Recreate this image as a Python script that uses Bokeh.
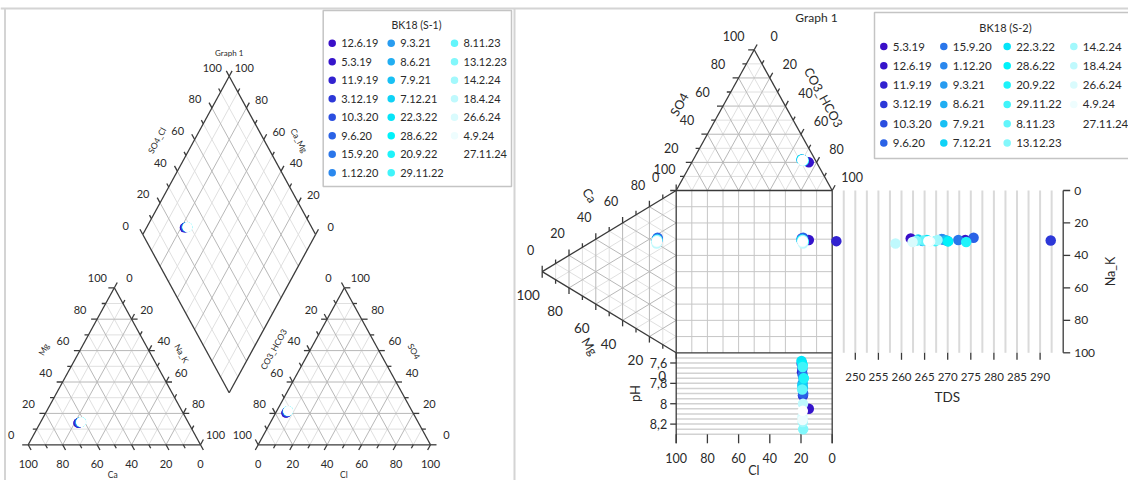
import numpy as np
from bokeh.plotting import figure
from bokeh.models import Range1d, ColumnDataSource
from bokeh.core.properties import value
from bokeh.embed import file_html
from bokeh.resources import INLINE

# ---------------------------------------------------------------- data
# BK18 (S-1): major ions in meq %, used for the Piper diagram
dates_s1 = ["12.6.19", "5.3.19", "11.9.19", "3.12.19", "10.3.20", "9.6.20", "15.9.20", "1.12.20",
            "9.3.21", "8.6.21", "7.9.21", "7.12.21", "22.3.22", "28.6.22", "20.9.22", "29.11.22",
            "8.11.23", "13.12.23", "14.2.24", "18.4.24", "26.6.24", "4.9.24", "27.11.24"]
ca_s1 = [64.2, 64.0, 63.7, 63.5, 63.3, 63.0, 62.9, 62.8, 62.6, 62.4, 62.5, 62.2,
         62.3, 62.0, 62.1, 61.9, 62.0, 61.8, 62.1, 61.9, 62.0, 62.2, 62.1]
mg_s1 = [13.8, 13.9, 14.0, 14.0, 14.1, 14.2, 14.2, 14.3, 14.3, 14.4, 14.3, 14.4,
         14.4, 14.5, 14.4, 14.5, 14.5, 14.6, 14.4, 14.5, 14.5, 14.4, 14.4]
nak_s1 = [22.0, 22.1, 22.3, 22.5, 22.6, 22.8, 22.9, 22.9, 23.1, 23.2, 23.2, 23.4,
          23.3, 23.5, 23.5, 23.6, 23.5, 23.6, 23.5, 23.6, 23.5, 23.4, 23.5]
cl_s1 = [6.0, 6.1, 6.2, 6.2, 6.3, 6.3, 6.4, 6.4, 6.5, 6.5, 6.5, 6.6,
         6.5, 6.6, 6.6, 6.6, 6.7, 6.6, 6.6, 6.7, 6.6, 6.5, 6.6]
so4_s1 = [20.2, 20.4, 20.6, 20.7, 20.9, 21.0, 21.1, 21.2, 21.3, 21.3, 21.4, 21.4,
          21.5, 21.5, 21.6, 21.5, 21.6, 21.6, 21.5, 21.6, 21.5, 21.5, 21.6]
hco3_s1 = [73.8, 73.5, 73.2, 73.1, 72.8, 72.7, 72.5, 72.4, 72.2, 72.2, 72.1, 72.0,
           72.0, 71.9, 71.8, 71.9, 71.7, 71.8, 71.9, 71.7, 71.9, 72.0, 71.8]

# BK18 (S-2): major ions in meq %, TDS and pH, used for the Durov diagram
dates_s2 = ["5.3.19", "12.6.19", "11.9.19", "3.12.19", "10.3.20", "9.6.20", "15.9.20", "1.12.20",
            "9.3.21", "8.6.21", "7.9.21", "7.12.21", "22.3.22", "28.6.22", "20.9.22", "29.11.22",
            "8.11.23", "13.12.23", "14.2.24", "18.4.24", "26.6.24", "4.9.24", "27.11.24"]
ca_s2 = [63.5, 62.4, 61.6, 62.1, 62.7, 63.9, 62.5, 63.0, 61.7, 61.8, 62.2, 62.7,
         62.3, 61.4, 61.0, 61.6, 62.0, 61.8, 62.4, 60.0, 61.0, 61.3, 61.6]
mg_s2 = [14.0, 14.2, 14.4, 14.2, 14.3, 13.9, 14.1, 14.2, 14.4, 14.3, 14.2, 14.1,
         14.3, 14.5, 14.5, 14.4, 14.3, 14.4, 14.2, 14.6, 14.5, 14.4, 14.4]
nak_s2 = [22.5, 23.4, 24.0, 23.7, 23.0, 22.2, 23.4, 22.8, 23.9, 23.9, 23.6, 23.2,
          23.4, 24.1, 24.5, 24.0, 23.7, 23.8, 23.4, 25.4, 24.5, 24.3, 24.0]
cl_s2 = [8.6, 5.0, 8.4, 8.0, 8.3, 7.9, 8.1, 8.5, 8.2, 7.8, 8.0, 8.3,
         8.7, 8.1, 7.6, 8.2, 8.4, 7.9, 8.1, 8.0, 8.3, 8.2, 8.1]
so4_s2 = [21.8, 20.0, 21.9, 21.5, 21.7, 21.4, 21.6, 21.8, 21.5, 21.3, 21.6, 21.7,
          22.0, 21.6, 21.2, 21.5, 21.6, 21.4, 21.5, 21.4, 21.6, 21.5, 21.5]
hco3_s2 = [69.6, 75.0, 69.7, 70.5, 70.0, 70.7, 70.3, 69.7, 70.3, 70.9, 70.4, 70.0,
           69.3, 70.3, 71.2, 70.3, 70.0, 70.7, 70.4, 70.6, 70.1, 70.3, 70.4]
tds_s2 = [262.0, 273.8, 245.9, 292.3, 269.0, 275.6, 272.3, 268.7, 270.0, 264.5, 269.6, 263.6,
          265.5, 270.1, 274.0, 267.3, 264.8, 263.2, 267.8, 258.7, 262.4, 266.2, 265.8]
ph_s2 = [7.61, 8.05, 7.69, 7.92, 7.66, 7.90, 7.72, 7.60, 7.80, 7.75, 7.84, 7.82,
         7.58, 7.62, 7.75, 7.64, 7.86, 8.25, 8.18, 8.00, 8.13, 8.16, 8.07]

# axis ticks of the Durov side plots
tds_ticks = [250, 255, 260, 265, 270, 275, 280, 285, 290]
ph_ticks = [7.6, 7.8, 8.0, 8.2]
ph_tick_labels = ["7,6", "7,8", "8", "8,2"]
pct_ticks = [0, 20, 40, 60, 80, 100]

# one colour per sampling date, dark violet -> blue -> cyan -> white
palette = ["#3a0fc8", "#3614cb", "#3222d0", "#2d38d8", "#2b4ee0", "#2a62e6", "#2a76ea", "#2a88ee",
           "#289cf0", "#21aef2", "#18c0f4", "#0fd2f6", "#06e4f8", "#00f2fa", "#1ef3fa", "#40f4fa",
           "#62f5fb", "#82f7fb", "#a2f8fc", "#bff9fd", "#d9fbfd", "#eefdfe", "#ffffff"]

# ---------------------------------------------------------------- layout (screen units)
W, H = 1128, 480
FONT = "Lato"
TXT = "#2a2a2a"

PIPER_CAT = [(27.7, 444.3), (113.85, 287.3), (200.0, 444.3)]     # Ca, Mg, Na_K
PIPER_AN = [(257.7, 444.3), (343.85, 287.3), (430.0, 444.3)]     # CO3_HCO3, SO4, Cl
DIA_B, DIA_L, DIA_R = np.array([228.7, 392.3]), np.array([142.3, 234.0]), np.array([315.1, 234.0])

DUR_AN = [(675.7, 190.0), (753.7, 49.3), (831.7, 190.0)]          # Cl, SO4, CO3_HCO3
DUR_CAT = [(541.7, 271.15), (675.7, 190.0), (675.7, 352.3)]       # Mg, Ca, Na_K
SQ_L, SQ_R, SQ_T, SQ_B = 675.7, 831.7, 190.0, 352.3
TDS_L, TDS_R = 831.7, 1062.7
TDS_MIN, TDS_MAX = 245.0, 295.0
PH_T, PH_B = 352.3, 433.8
PH_MIN, PH_MAX = 7.5, 8.3
CL_AX_Y = 433.8

p = figure(width=W, height=H, x_range=Range1d(0, W), y_range=Range1d(H, 0),
           x_axis_type=None, y_axis_type=None, output_backend="svg",
           toolbar_location=None, min_border=0, outline_line_color=None)
p.grid.visible = False
p.background_fill_color = "white"
p.border_fill_color = "white"

line_sets = {}


def seg(group, x0, y0, x1, y1):
    d = line_sets.setdefault(group, {"xs": [], "ys": []})
    d["xs"].append([float(x0), float(x1)])
    d["ys"].append([float(y0), float(y1)])


texts = []


def txt(x, y, s, size, angle=0.0, align="center", baseline="middle", color=TXT):
    texts.append((float(x), float(y), s, size, angle, align, baseline, color))


def bary(verts, comps):
    w = np.asarray(comps, dtype=float)
    s = w.sum(axis=0)
    x = sum(w[i] * verts[i][0] for i in range(3)) / s
    y = sum(w[i] * verts[i][1] for i in range(3)) / s
    return x, y


def tri_grid(verts):
    for k in range(3):
        o1, o2 = (k + 1) % 3, (k + 2) % 3
        for t in range(10, 100, 10):
            a = [0, 0, 0]
            a[k], a[o1] = t, 100 - t
            b = [0, 0, 0]
            b[k], b[o2] = t, 100 - t
            x0, y0 = bary(verts, a)
            x1, y1 = bary(verts, b)
            seg("major" if t % 20 == 0 else "minor", x0, y0, x1, y1)


def tri_edges(verts):
    for i in range(3):
        a, b = verts[i], verts[(i + 1) % 3]
        seg("edge", a[0], a[1], b[0], b[1])


def tri_axis(verts, k, j, off, size, direction=None, both=False):
    o = 3 - k - j
    a = [0, 0, 0]
    a[k], a[o] = 50, 50
    b = [0, 0, 0]
    b[k], b[j] = 50, 50
    ex, ey = bary(verts, a)
    fx, fy = bary(verts, b)
    if direction is None:
        d = np.array([ex - fx, ey - fy])
        d = d / np.hypot(*d)
    else:
        d = np.array(direction, dtype=float)
    for t in range(0, 101, 10):
        c = [0, 0, 0]
        c[k], c[o] = t, 100 - t
        x, y = bary(verts, c)
        ln = 6 if t % 20 == 0 else 4
        seg("edge", x, y, x + d[0] * ln, y + d[1] * ln)
        if both and t % 20 == 0 and 0 < t < 100:
            c2 = [0, 0, 0]
            c2[k], c2[j] = t, 100 - t
            x2, y2 = bary(verts, c2)
            seg("edge", x2, y2, x2 - d[0] * ln, y2 - d[1] * ln)
        if t % 20 == 0:
            txt(x + off[0], y + off[1], str(t), size)


def dia(u, v):
    return DIA_B + v * (DIA_L - DIA_B) + u * (DIA_R - DIA_B)


# ---------------------------------------------------------------- panel frames
seg("frame", 0, 8, W, 8)
seg("frame", 4.5, 8, 4.5, H)
seg("frame", 514, 8, 514, H)

# ---------------------------------------------------------------- Piper (S-1)
tri_grid(PIPER_CAT)
tri_grid(PIPER_AN)
for t in range(10, 100, 10):
    g = "major" if t % 20 == 0 else "minor"
    a, b = dia(t / 100, 0), dia(t / 100, 1)
    seg(g, a[0], a[1], b[0], b[1])
    a, b = dia(0, t / 100), dia(1, t / 100)
    seg(g, a[0], a[1], b[0], b[1])

tri_edges(PIPER_CAT)
tri_edges(PIPER_AN)
corners = [dia(0, 0), dia(0, 1), dia(1, 1), dia(1, 0)]
for i in range(4):
    a, b = corners[i], corners[(i + 1) % 4]
    seg("edge", a[0], a[1], b[0], b[1])

tri_axis(PIPER_CAT, 1, 2, (-17, -9.5), 11, both=True)     # Mg
tri_axis(PIPER_CAT, 2, 0, (15, -9.5), 11)                  # Na_K
tri_axis(PIPER_CAT, 0, 1, (0, 19), 11)                     # Ca
tri_axis(PIPER_AN, 0, 2, (-16, -9.5), 11)                  # CO3_HCO3
tri_axis(PIPER_AN, 1, 0, (16, -9.5), 11, both=True)       # SO4
tri_axis(PIPER_AN, 2, 1, (0, 19), 11)                      # Cl

d_ul = (DIA_L - DIA_B) / np.hypot(*(DIA_L - DIA_B))
d_ur = (DIA_R - DIA_B) / np.hypot(*(DIA_R - DIA_B))
for t in range(0, 101, 10):
    ln = 6 if t % 20 == 0 else 4
    e = dia(t / 100, 1)
    seg("edge", e[0], e[1], e[0] + d_ul[0] * ln, e[1] + d_ul[1] * ln)
    if t % 20 == 0:
        txt(e[0] - 17, e[1] - 8.5, str(t), 11)
    e = dia(1, t / 100)
    seg("edge", e[0], e[1], e[0] + d_ur[0] * ln, e[1] + d_ur[1] * ln)
    if t % 20 == 0:
        txt(e[0] + 15, e[1] - 8, str(t), 11)

txt(43.3, 349, "Mg", 8.5, 61)
txt(181, 353, "Na_K", 8.5, -61)
txt(112.3, 474, "Ca", 8.5)
txt(273.3, 349, "CO3_HCO3", 8.5, 61)
txt(413.3, 351, "SO4", 8.5, -61)
txt(343.3, 474, "Cl", 8.5)
txt(156.7, 140, "SO4_Cl", 8.5, 61)
txt(298.3, 140, "Ca_Mg", 8.5, -61)
txt(228.7, 52.7, "Graph 1", 8)

# ---------------------------------------------------------------- Durov (S-2)
tri_grid(DUR_AN)
tri_grid(DUR_CAT)
for t in range(10, 100, 10):
    x = SQ_R - t / 100 * (SQ_R - SQ_L)
    seg("sq", x, SQ_T, x, SQ_B)
    y = SQ_T + t / 100 * (SQ_B - SQ_T)
    seg("sq", SQ_L, y, SQ_R, y)


def x_tds(v):
    return TDS_L + (np.asarray(v, float) - TDS_MIN) / (TDS_MAX - TDS_MIN) * (TDS_R - TDS_L)


def y_ph(v):
    return PH_T + (np.asarray(v, float) - PH_MIN) / (PH_MAX - PH_MIN) * (PH_B - PH_T)


def y_pct(v):
    return SQ_T + np.asarray(v, float) / 100 * (SQ_B - SQ_T)


def x_cl(v):
    return SQ_R - np.asarray(v, float) / 100 * (SQ_R - SQ_L)


for tv in np.arange(TDS_MIN + 2.5, TDS_MAX, 2.5):
    xx = x_tds(tv)
    seg("tdsgrid", xx, SQ_T, xx, SQ_B)
for pv in np.arange(PH_MIN + 0.05, PH_MAX + 0.01, 0.05):
    yy = y_ph(pv)
    seg("phgrid", SQ_L, yy, SQ_R, yy)

tri_edges(DUR_AN)
tri_edges(DUR_CAT)
seg("edge", SQ_R, SQ_T, SQ_R, CL_AX_Y + 9)
seg("edge", SQ_L, SQ_B, SQ_R, SQ_B)
seg("edge", SQ_L, SQ_B, SQ_L, CL_AX_Y + 9)
seg("edge", TDS_R, SQ_T, TDS_R, SQ_B)

tri_axis(DUR_AN, 1, 2, (-20.5, -14), 12.5)                       # SO4
tri_axis(DUR_AN, 2, 0, (20, -13.5), 12.5)                        # CO3_HCO3
tri_axis(DUR_CAT, 1, 2, (-11.5, -22), 12.5, direction=(0, -1))   # Ca
tri_axis(DUR_CAT, 0, 1, (-14, 23.5), 13.5, direction=(0, 1))     # Mg

for v in pct_ticks:
    yy = y_pct(v)
    seg("edge", TDS_R, yy, TDS_R + 7, yy)
    txt(TDS_R + 11, yy, str(v), 12, align="left")
    xx = x_cl(v)
    seg("edge", xx, CL_AX_Y, xx, CL_AX_Y + 9)
    txt(xx, 457, str(v), 12.5)
for v in tds_ticks:
    xx = x_tds(v)
    seg("edge", xx, SQ_B, xx, SQ_B + 7)
    txt(xx, 376.5, str(v), 11.5)
for v, lab in zip(ph_ticks, ph_tick_labels):
    yy = y_ph(v)
    seg("edge", SQ_L - 6, yy, SQ_L, yy)
    txt(SQ_L - 9, yy, lab, 12.5, align="right")

txt(679, 104, "SO4", 12.5, 61)
txt(823, 97, "CO3_HCO3", 12.5, -61)
txt(589, 195, "Ca", 12.5, -58)
txt(589, 346, "Mg", 12.5, -58)
txt(1110, 271, "Na_K", 12.5, 90)
txt(946.7, 396, "TDS", 13.5)
txt(634.3, 393, "pH", 13, 90)
txt(753.3, 470, "Cl", 12.5)
txt(816, 17, "Graph 1", 12)

# ---------------------------------------------------------------- line rendering
styles = {
    "frame": ("#d4d4d4", 2.0),
    "minor": ("#e0e0e0", 1.0),
    "major": ("#b8b8b8", 1.0),
    "sq": ("#c6c6c6", 1.0),
    "tdsgrid": ("#dadada", 2.0),
    "phgrid": ("#d2d2d2", 1.5),
    "edge": ("#3a3a3a", 1.3),
}
for g in ["frame", "minor", "major", "sq", "tdsgrid", "phgrid", "edge"]:
    if g in line_sets:
        c, w = styles[g]
        p.multi_line(xs=line_sets[g]["xs"], ys=line_sets[g]["ys"], line_color=c, line_width=w)

# ---------------------------------------------------------------- samples
cat_x, cat_y = bary(PIPER_CAT, [ca_s1, mg_s1, nak_s1])
an_x, an_y = bary(PIPER_AN, [hco3_s1, so4_s1, cl_s1])
cat_sum = np.add(np.add(ca_s1, mg_s1), nak_s1)
an_sum = np.add(np.add(cl_s1, so4_s1), hco3_s1)
u = np.add(cl_s1, so4_s1) / an_sum
v = np.add(ca_s1, mg_s1) / cat_sum
dia_xy = np.array([dia(ui, vi) for ui, vi in zip(u, v)])
n1 = len(dates_s1)
col1 = palette[:n1]
for xs_, ys_ in [(cat_x, cat_y), (an_x, an_y), (dia_xy[:, 0], dia_xy[:, 1])]:
    p.scatter(x=xs_, y=ys_, size=9.5, fill_color=col1, line_color=None)

dcat_x, dcat_y = bary(DUR_CAT, [mg_s2, ca_s2, nak_s2])
dan_x, dan_y = bary(DUR_AN, [cl_s2, so4_s2, hco3_s2])
n2 = len(dates_s2)
col2 = palette[:n2]
for xs_, ys_ in [(dcat_x, dcat_y), (dan_x, dan_y), (dan_x, dcat_y),
                 (x_tds(tds_s2), dcat_y), (dan_x, y_ph(ph_s2))]:
    p.scatter(x=xs_, y=ys_, size=10.5, fill_color=col2, line_color=None)

# ---------------------------------------------------------------- legends
p.quad(left=[322.7, 874], right=[511, 1140], top=[10, 12], bottom=[186, 158],
       fill_color="white", line_color="#c4c4c4", line_width=1.5)

lx, ly, lc = [], [], []
for i, d in enumerate(dates_s1):
    c, r = divmod(i, 8)
    mx = [331.7, 390.7, 454.0][c]
    lx.append(mx)
    ly.append(42.7 + r * 18.5)
    lc.append(palette[i])
    txt(mx + 9, 42.7 + r * 18.5, d, 11, align="left")
for i, d in enumerate(dates_s2):
    c, r = divmod(i, 6)
    mx = [883.3, 943.3, 1006.7, 1073.3][c]
    lx.append(mx)
    ly.append(46 + r * 19.3)
    lc.append(palette[i])
    txt(mx + 9, 46 + r * 19.3, d, 11.5, align="left")
p.scatter(x=lx, y=ly, size=7.5, fill_color=lc, line_color=None)
txt(416, 24, "BK18 (S-1)", 10.5)
txt(1005, 26.5, "BK18 (S-2)", 11)

# ---------------------------------------------------------------- texts
groups = {}
for (x, y, s, size, ang, al, bl, colr) in texts:
    groups.setdefault((size, al, bl, colr), []).append((x, y, s, ang))
for (size, al, bl, colr), rows in groups.items():
    src = ColumnDataSource(dict(x=[r[0] for r in rows], y=[r[1] for r in rows],
                                text=[r[2] for r in rows], angle=[r[3] for r in rows]))
    p.text(x="x", y="y", text="text", angle="angle", angle_units="deg", source=src,
           text_font=value(FONT), text_font_size=value(f"{size}px"),
           text_align=al, text_baseline=bl, text_color=colr)

open("out.html", "w").write(file_html(p, INLINE))
